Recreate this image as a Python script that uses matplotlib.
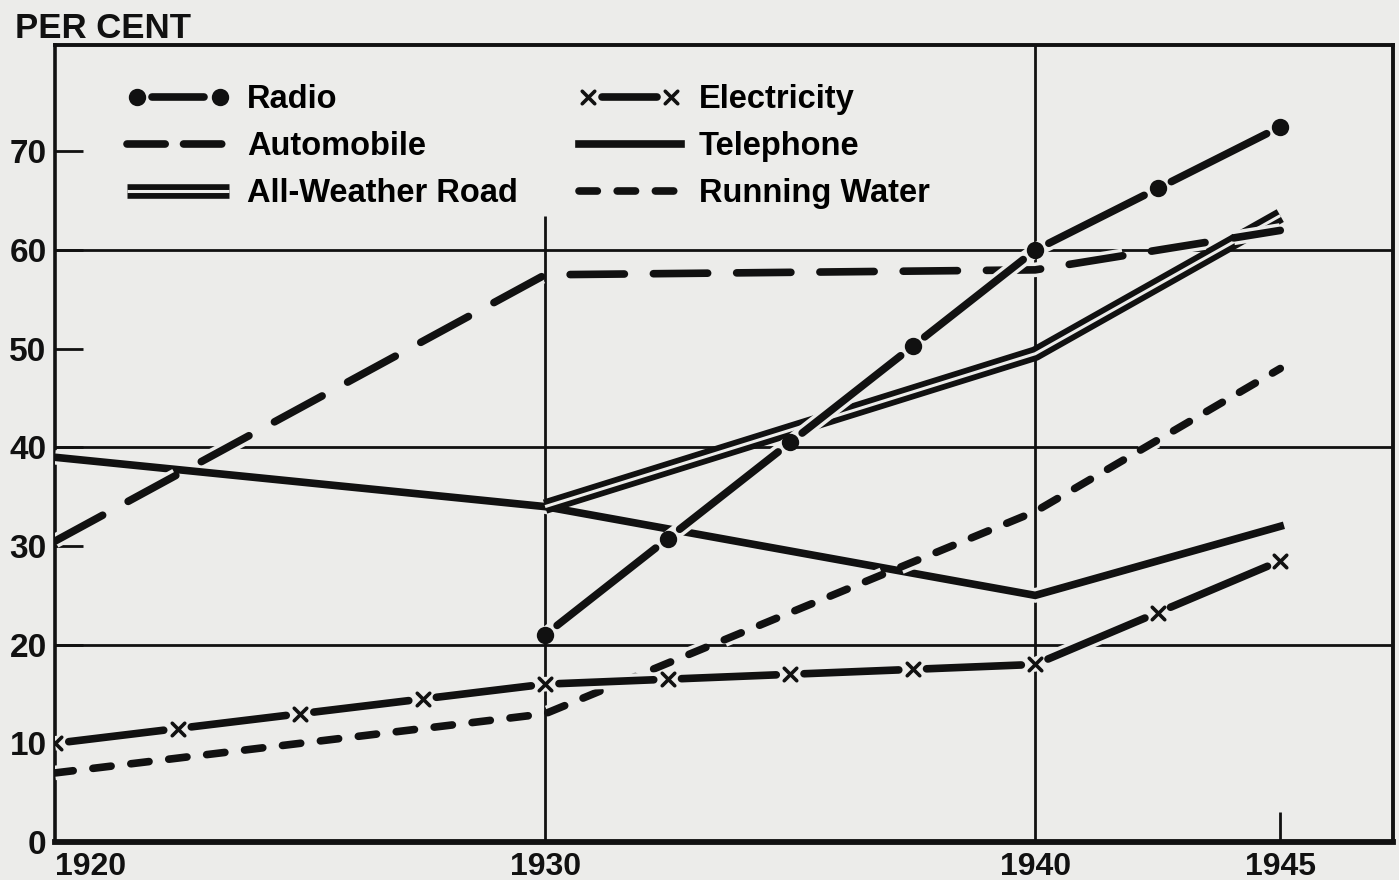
import numpy as np
import matplotlib
matplotlib.use("Agg")
import matplotlib.pyplot as plt
from matplotlib import patheffects as pe
from matplotlib.path import Path
from matplotlib.markers import MarkerStyle
from matplotlib.lines import Line2D
from matplotlib.legend_handler import HandlerLine2D
from matplotlib.transforms import Affine2D, IdentityTransform

# data (per cent of farms)
years = [1920, 1930, 1940, 1945]
radio_years = [1930, 1940, 1945]
radio = [21, 60, 72.5]
automobile = [30.5, 57.5, 58, 62]
road_years = [1930, 1940, 1945]
road = [34, 49.5, 63.5]
electricity = [10, 16, 18, 28.5]
telephone = [39, 34, 25, 32]
water = [7, 13, 33.5, 48]

xticks = [1920, 1930, 1940, 1945]
yticks = [0, 10, 20, 30, 40, 50, 60, 70]
ygrid = [20, 40, 60]

BG = "#ececea"
INK = "#111111"


class MarkedDashes(pe.AbstractPathEffect):
    """Line cut into dashes with a marker at every joint (old print style)."""

    def __init__(self, marker, step, gap, msize, mew=2.5):
        super().__init__()
        self.marker = marker
        self.step = step
        self.gap = gap
        self.msize = msize
        self.mew = mew

    def draw_path(self, renderer, gc, tpath, affine, rgbFace=None):
        pts = affine.transform(tpath.vertices)
        step = renderer.points_to_pixels(self.step)
        gap = renderer.points_to_pixels(self.gap)
        joints = [pts[0]]
        for a, b in zip(pts[:-1], pts[1:]):
            n = max(1, int(round(np.hypot(*(b - a)) / step)))
            for k in range(1, n + 1):
                joints.append(a + (b - a) * k / n)
        joints = np.array(joints)
        verts, codes = [], []
        for a, b in zip(joints[:-1], joints[1:]):
            d = b - a
            L = np.hypot(*d)
            if L <= 2 * gap:
                continue
            u = d / L
            verts += [a + u * gap, b - u * gap]
            codes += [Path.MOVETO, Path.LINETO]
        gc0 = renderer.new_gc()
        gc0.copy_properties(gc)
        gc0.set_dashes(0, None)
        gc0.set_capstyle("round")
        if verts:
            renderer.draw_path(gc0, Path(np.array(verts), codes), IdentityTransform())
        m = MarkerStyle(self.marker)
        mtrans = m.get_transform() + Affine2D().scale(renderer.points_to_pixels(self.msize))
        gc0.set_linewidth(self.mew)
        face = gc.get_rgb() if m.is_filled() else None
        renderer.draw_markers(gc0, m.get_path(), mtrans, Path(joints), IdentityTransform(), face)
        gc0.restore()


def halo(lw):
    return pe.Stroke(linewidth=lw + 5, foreground=BG, capstyle="butt")


plt.rcParams["font.family"] = ["Liberation Sans", "DejaVu Sans"]
plt.rcParams["font.weight"] = "bold"

fig = plt.figure(figsize=(13.99, 8.8), dpi=100, facecolor=BG)
ax = fig.add_axes([0.0393, 0.0432, 0.9564, 0.9057], facecolor=BG)
ax.set_xlim(1920, 1947.3)
ax.set_ylim(0, 80.8)

# grid lines
for v in ygrid:
    ax.axhline(v, color=INK, lw=2, zorder=1)
ax.vlines(1930, 0, 63.5, color=INK, lw=2, zorder=1)
ax.vlines(1940, 0, 80.8, color=INK, lw=2, zorder=1)
ax.vlines(1945, 0, 3, color=INK, lw=2, zorder=1)

LW = 5.5
h_tel, = ax.plot(years, telephone, color=INK, lw=LW, solid_joinstyle="miter",
                 path_effects=[halo(LW), pe.Normal()], zorder=3, label="Telephone")
h_road, = ax.plot(road_years, road, color=INK, lw=10.5, solid_capstyle="butt",
                  path_effects=[pe.Normal(), pe.Stroke(linewidth=2.2, foreground=BG)],
                  zorder=4, label="All-Weather Road")
h_auto, = ax.plot(years, automobile, color=INK, lw=LW, dashes=(7.1, 3.8),
                  dash_capstyle="round", path_effects=[halo(LW), pe.Normal()],
                  zorder=5, label="Automobile")
h_water, = ax.plot(years, water, color=INK, lw=LW, dashes=(2.4, 2.6),
                   dash_capstyle="round", path_effects=[halo(LW), pe.Normal()],
                   zorder=5, label="Running Water")
h_elec, = ax.plot(years, electricity, color=INK, lw=LW,
                  path_effects=[halo(LW), MarkedDashes("x", 88, 10, 9, 2.6)],
                  zorder=6, label="Electricity")
h_radio, = ax.plot(radio_years, radio, color=INK, lw=LW,
                   path_effects=[halo(LW), MarkedDashes("o", 108, 11, 10)],
                   zorder=6, label="Radio")

# legend keys drawn a little differently from the plotted lines
key_auto = Line2D([], [], color=INK, lw=LW, dashes=(5.0, 2.4), dash_capstyle="round")
key_water = Line2D([], [], color=INK, lw=LW, dashes=(2.4, 2.6), dash_capstyle="round")

# axes frame and ticks
for side, w in [("left", 2.6), ("top", 2.8), ("right", 2.8), ("bottom", 4.2)]:
    ax.spines[side].set_linewidth(w)
    ax.spines[side].set_color(INK)
ax.set_yticks(yticks)
ax.set_yticklabels([str(v) for v in yticks])
ax.set_xticks(xticks)
ax.set_xticklabels([str(v) for v in xticks])
ax.tick_params(axis="y", direction="in", length=20, width=2, pad=6,
               labelsize=24, colors=INK)
ax.tick_params(axis="x", length=0, pad=7, labelsize=23, colors=INK)
ax.get_xticklabels()[0].set_horizontalalignment("left")

fig.text(15 / 1399, 1 - 12 / 880, "PER CENT", ha="left", va="top",
         fontsize=25, weight="bold", color=INK)

handles = [h_radio, key_auto, h_road, h_elec, h_tel, key_water]
labels = ["Radio", "Automobile", "All-Weather Road",
          "Electricity", "Telephone", "Running Water"]
flat = HandlerLine2D(marker_pad=0)
ax.legend(handles, labels, ncol=2, loc="upper left",
          bbox_to_anchor=(0.054, 0.951), frameon=False, numpoints=2,
          prop=dict(size=23.5, weight="bold"), handlelength=3.13,
          handletextpad=0.55, columnspacing=1.85, labelspacing=0.49,
          borderpad=0, borderaxespad=0,
          handler_map={key_auto: flat, key_water: flat, h_road: flat, h_tel: flat})

fig.savefig("out.png", dpi=100, facecolor=BG)
